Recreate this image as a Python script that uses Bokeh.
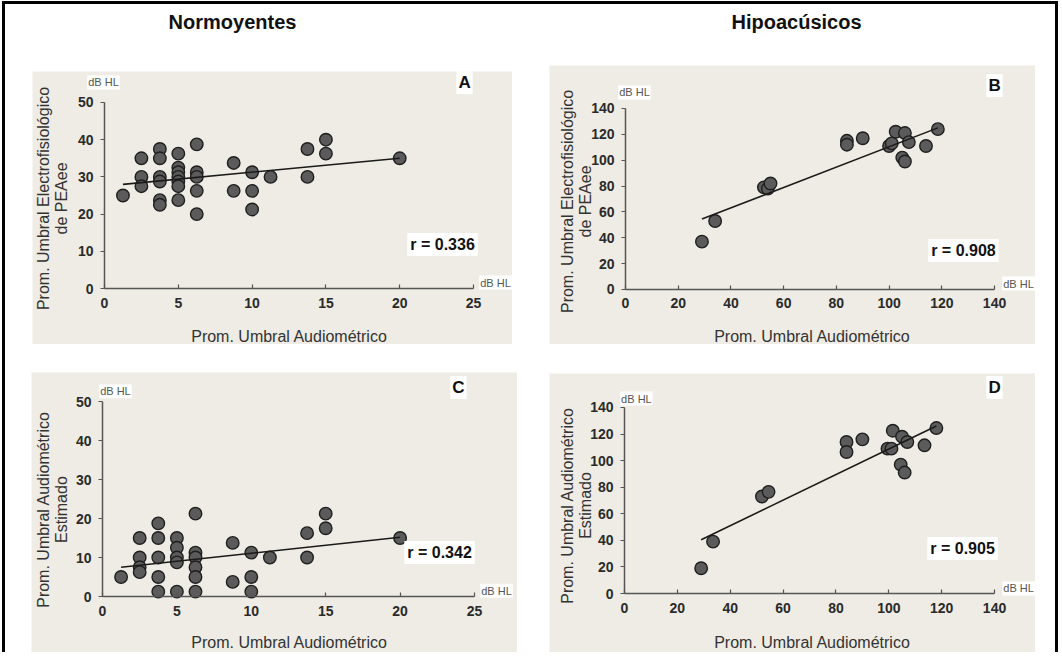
import math
from bokeh.plotting import figure
from bokeh.layouts import column, row
from bokeh.models import Range1d, FixedTicker, Label
from bokeh.core.properties import value
from bokeh.embed import file_html
from bokeh.resources import INLINE

FONT = "Liberation Sans"
BG = "#eeece4"

# ---------------- data ----------------
group_titles = ["Normoyentes", "Hipoacúsicos"]
x_title = "Prom. Umbral Audiométrico"
y_title_top = ["Prom. Umbral Electrofisiológico", "de PEAee"]
y_title_bottom = ["Prom. Umbral Audiométrico", "Estimado"]

# Panel A: Normoyentes, electrophysiological threshold
a_x = [1.25, 2.5, 2.5, 2.5, 3.75, 3.75, 3.75, 3.75, 3.75, 3.75,
       5, 5, 5, 5, 5, 5, 5, 6.25, 6.25, 6.25, 6.25, 6.25,
       8.75, 8.75, 10, 10, 10, 11.25, 13.75, 13.75, 15, 15, 20]
a_y = [25, 35, 30, 27.5, 37.5, 35, 30, 28.75, 23.75, 22.5,
       36.25, 32.5, 31.25, 30, 28.75, 27.5, 23.75, 38.75, 31.25, 30, 26.25, 20,
       33.75, 26.25, 31.25, 26.25, 21.25, 30, 37.5, 30, 40, 36.25, 35]
a_fit_x = [1.25, 20]
a_fit_y = [28, 35]

# Panel B: Hipoacúsicos, electrophysiological threshold
b_x = [29, 34, 52.5, 54, 55, 84, 84, 90, 100, 101, 102.5, 106, 107.5, 105, 106, 114, 118.5]
b_y = [37, 53, 79, 78, 82, 115, 112, 117, 111, 113, 122, 121, 114, 102, 99, 111, 124]
b_fit_x = [29, 118.5]
b_fit_y = [54.5, 125]

# Panel C: Normoyentes, estimated audiometric threshold
c_x = [1.25, 2.5, 2.5, 2.5, 2.5, 3.75, 3.75, 3.75, 3.75, 3.75,
       5, 5, 5, 5, 5, 6.25, 6.25, 6.25, 6.25, 6.25, 6.25,
       8.75, 8.75, 10, 10, 10, 11.25, 13.75, 13.75, 15, 15, 20]
c_y = [5, 15, 10, 7.5, 6.25, 18.75, 15, 10, 5, 1.25,
       15, 12.5, 10, 8.75, 1.25, 21.25, 11.25, 10, 7.5, 5, 1.25,
       13.75, 3.75, 11.25, 5, 1.25, 10, 16.25, 10, 21.25, 17.5, 15]
c_fit_x = [1.25, 20]
c_fit_y = [7.5, 15.2]

# Panel D: Hipoacúsicos, estimated audiometric threshold
d_x = [29, 33.5, 52, 54.5, 84, 84, 90, 99.5, 101, 101.5, 105, 107, 104.5, 106, 113.5, 118]
d_y = [19, 39, 73, 76.5, 114, 106.5, 116, 109, 109, 122.5, 118, 114, 97, 91, 111.5, 124.5]
d_fit_x = [29, 118]
d_fit_y = [40.5, 126]

a_ticks_x = [0, 5, 10, 15, 20, 25]
a_ticks_y = [0, 10, 20, 30, 40, 50]
b_ticks = [0, 20, 40, 60, 80, 100, 120, 140]


def label(p, x, y, text, size, bold=False, color="#222222", bg=None, pad=0,
          angle=0.0):
    lab = Label(x=x, y=y, text=text,
                text_font=FONT, text_font_size=size,
                text_font_style="bold" if bold else "normal",
                text_color=color, text_align="center",
                text_baseline="middle", angle=angle)
    if bg is not None:
        lab.background_fill_color = bg
        lab.padding = pad
    p.add_layout(lab)


def panel(xs, ys, fx, fy, xr, yr, xmax, xticks, ymax, yticks, w, h, margin,
          letter, letter_xy, rtext, r_xy, ytitle, yt_x, yt_y, xt_xy, dby_xy, dbx_xy):
    p = figure(width=w, height=h, x_range=Range1d(*xr), y_range=Range1d(*yr),
               output_backend="svg", toolbar_location=None, min_border=0,
               background_fill_color=BG, border_fill_color=BG,
               outline_line_color=None)
    p.margin = margin
    p.xgrid.visible = False
    p.ygrid.visible = False
    p.xaxis.ticker = FixedTicker(ticks=xticks)
    p.yaxis.ticker = FixedTicker(ticks=yticks)
    p.xaxis.bounds = (0, xmax)
    p.yaxis.bounds = (0, ymax)
    p.xaxis.fixed_location = 0
    p.yaxis.fixed_location = 0
    for ax in (p.xaxis[0], p.yaxis[0]):
        ax.axis_line_color = "#555555"
        ax.axis_line_width = 1.5
        ax.major_tick_line_color = "#555555"
        ax.major_tick_line_width = 1.2
        ax.minor_tick_line_color = None
        ax.major_label_text_font = FONT
        ax.major_label_text_font_style = "bold"
        ax.major_label_text_font_size = "14px"
        ax.major_label_text_color = "#2a2a2a"
    p.xaxis.major_tick_in = 4
    p.xaxis.major_tick_out = 0
    p.xaxis.major_label_standoff = 9
    p.yaxis.major_tick_in = 0
    p.yaxis.major_tick_out = 4
    p.yaxis.major_label_standoff = 7

    p.scatter(xs, ys, size=12.5, fill_color="#5b5b5b", line_color="#1f1f1f",
              line_width=1.4)
    p.line(fx, fy, line_color="#1a1a1a", line_width=1.6)

    label(p, letter_xy[0], letter_xy[1], letter, "17px", bold=True,
          color="#111111", bg="white", pad=2)
    label(p, r_xy[0], r_xy[1], rtext, "16px", bold=True, color="#111111",
          bg="white", pad=3)
    label(p, dby_xy[0], dby_xy[1], "dB HL", "11px", color="#555555", bg="white", pad=1)
    label(p, dbx_xy[0], dbx_xy[1], "dB HL", "11px", color="#555555", bg="white", pad=1)
    for t_, xx in zip(ytitle, yt_x):
        label(p, xx, yt_y, t_, "16px", color="#333333", angle=math.pi / 2)
    label(p, xt_xy[0], xt_xy[1], x_title, "16px", color="#333333")
    return p


# A: box x 33..513 / y 72..345 ; axis origin (105, 289), 14.76 px/unit x, 3.72 px/unit y
pA = panel(a_x, a_y, a_fit_x, a_fit_y, (-4.878, 27.64), (-15.05, 58.33),
           25, a_ticks_x, 50, a_ticks_y, 480, 273, (7, 0, 0, 27),
           "A", (24.39, 55.4), "r = 0.336", (22.9, 11.8),
           y_title_top, [-4.13, -2.91], 24.2, (12.53, -12.9),
           (-0.07, 55.4), (26.49, 1.6))

# B: box x 550..1036 / y 66..345 ; origin (626, 290), 2.636 px/unit x, 1.293 px/unit y
pB = panel(b_x, b_y, b_fit_x, b_fit_y, (-28.83, 155.54), (-42.54, 173.24),
           140, b_ticks, 140, b_ticks, 486, 279, (1, 0, 0, 37),
           "B", (140.0, 157.8), "r = 0.908", (128.2, 30.2),
           y_title_top, [-22.0, -15.2], 68.1, (70.9, -36.3),
           (3.4, 152.4), (149.1, 4.6))

# C: box x 32..518 / y 373..653 ; origin (103, 597), 14.88 px/unit x, 3.9 px/unit y
pC = panel(c_x, c_y, c_fit_x, c_fit_y, (-4.77, 27.89), (-14.36, 57.44),
           25, a_ticks_x, 50, a_ticks_y, 486, 280, (28, 0, 0, 26),
           "C", (23.92, 53.6), "r = 0.342", (22.65, 11.3),
           y_title_bottom, [-3.96, -2.76], 22.3, (12.57, -11.8),
           (0.87, 52.6), (26.48, 1.5))

# D: box x 550..1036 / y 374..653 ; origin (625, 594), 2.643 px/unit x, 1.329 px/unit y
pD = panel(d_x, d_y, d_fit_x, d_fit_y, (-28.38, 155.5), (-44.39, 165.54),
           140, b_ticks, 140, b_ticks, 486, 279, (29, 0, 0, 32),
           "D", (140.0, 155.0), "r = 0.905", (127.9, 33.9),
           y_title_bottom, [-21.6, -14.8], 66.2, (71.1, -36.9),
           (4.5, 146.7), (149.1, 3.8))

header = figure(width=1050, height=60, x_range=Range1d(0, 1050), y_range=Range1d(60, 0),
                output_backend="svg", toolbar_location=None, min_border=0,
                outline_line_color=None, background_fill_color="white",
                border_fill_color="white")
header.axis.visible = False
header.grid.visible = False
header.text(x=[227, 791], y=[17, 17], text=group_titles, text_font=value(FONT),
            text_font_size="20px", text_font_style="bold", text_color="#111111",
            text_align="center", text_baseline="middle")

root = column(header, row(pA, pB), row(pC, pD),
              styles={"border-top": "3px solid black",
                      "border-left": "3px solid black",
                      "border-right": "3px solid black",
                      "margin-left": "2px", "margin-top": "1px",
                      "background-color": "white"})

open("out.html", "w").write(file_html(root, INLINE))
